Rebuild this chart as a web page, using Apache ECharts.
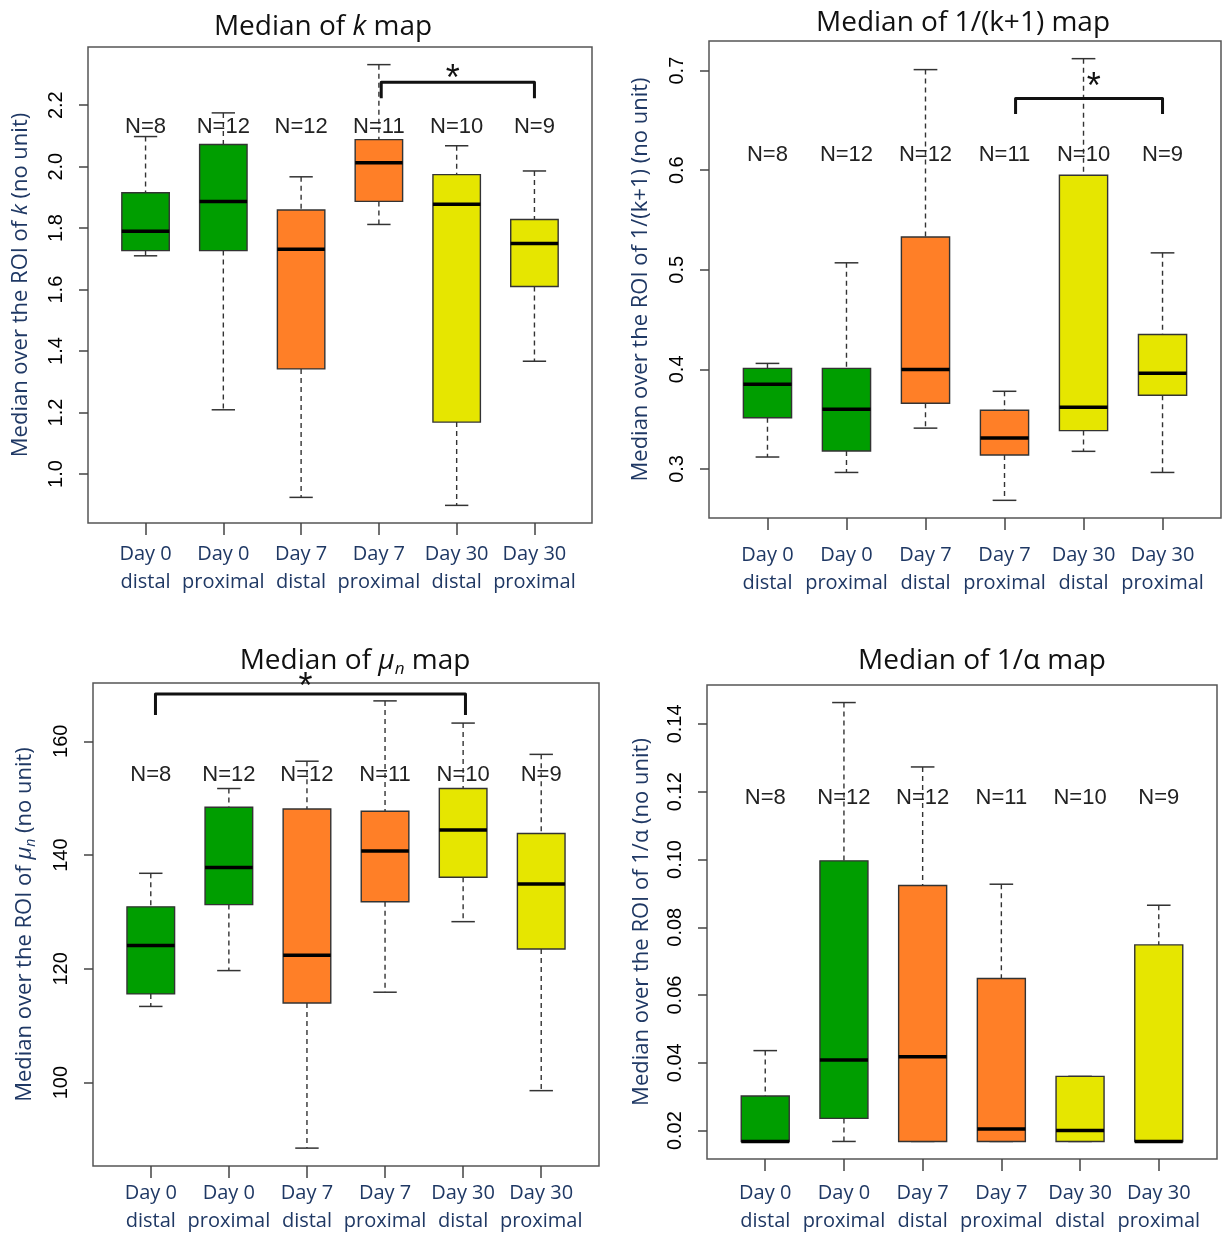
<!DOCTYPE html>
<html>
<head>
<meta charset="utf-8">
<script src="https://cdn.jsdelivr.net/npm/echarts@6/dist/echarts.min.js"></script>
<style>
html,body{margin:0;padding:0;background:#fff;}
#chart{width:1224px;height:1235px;}
</style>
</head>
<body>
<div id="chart"></div>
<script>
// ---------- DATA ----------
const categories = ['Day 0\ndistal', 'Day 0\nproximal', 'Day 7\ndistal', 'Day 7\nproximal', 'Day 30\ndistal', 'Day 30\nproximal'];
const nLabels = ['N=8', 'N=12', 'N=12', 'N=11', 'N=10', 'N=9'];

// each row: [lower whisker, Q1, median, Q3, upper whisker]
const kMap = [
  [1.710, 1.727, 1.790, 1.915, 2.098],
  [1.209, 1.727, 1.887, 2.072, 2.175],
  [0.924, 1.342, 1.731, 1.859, 1.967],
  [1.812, 1.887, 2.013, 2.088, 2.332],
  [0.898, 1.169, 1.878, 1.974, 2.068],
  [1.367, 1.610, 1.750, 1.828, 1.986]
];
const invK1Map = [
  [0.3120, 0.3515, 0.385, 0.401, 0.406],
  [0.2965, 0.3180, 0.360, 0.401, 0.507],
  [0.3410, 0.3660, 0.400, 0.533, 0.701],
  [0.2685, 0.3140, 0.331, 0.359, 0.378],
  [0.3177, 0.3385, 0.362, 0.595, 0.712],
  [0.2965, 0.3740, 0.396, 0.435, 0.517]
];
const muMap = [
  [113.4, 115.6, 124.1, 130.9, 136.8],
  [119.7, 131.3, 137.8, 148.4, 151.7],
  [88.5, 114.0, 122.4, 148.1, 156.5],
  [115.9, 131.8, 140.7, 147.7, 167.1],
  [128.3, 136.1, 144.4, 151.7, 163.2],
  [98.6, 123.5, 134.9, 143.8, 157.7]
];
const invAlphaMap = [
  [0.0168, 0.0168, 0.0168, 0.0302, 0.0436],
  [0.0168, 0.0236, 0.0408, 0.0996, 0.1463],
  [0.0168, 0.0168, 0.0418, 0.0923, 0.1273],
  [0.0168, 0.0168, 0.0205, 0.0649, 0.0927],
  [0.0168, 0.0168, 0.0200, 0.0360, 0.0360],
  [0.0168, 0.0168, 0.0168, 0.0748, 0.0865]
];

// tick labels
const kTicks = [1.0, 1.2, 1.4, 1.6, 1.8, 2.0, 2.2];
const invK1Ticks = [0.3, 0.4, 0.5, 0.6, 0.7];
const muTicks = [100, 120, 140, 160];
const invAlphaTicks = [0.02, 0.04, 0.06, 0.08, 0.10, 0.12, 0.14];

// significance brackets: [from x, to x, bar y, foot y] and star [x, y]
const kBracket = [4.03, 6.0, 2.275, 2.223];
const kStar = [4.95, 2.304];
const invK1Bracket = [4.14, 6.0, 0.672, 0.6565];
const invK1Star = [5.13, 0.689];
const muBracket = [1.06, 5.03, 168.3, 164.6];
const muStar = [2.98, 170.5];

// ---------- STYLE ----------
const boxColors = ['#009e00', '#009e00', '#ff7f27', '#ff7f27', '#e6e600', '#e6e600'];
const navy = '#1f3864';
const catPos = [1, 2, 3, 4, 5, 6];

const panels = [
  {
    data: kMap, ticks: kTicks, dec: 1,
    grid: { left: 88, top: 47, width: 504, height: 476 },
    nY: 2.129, xMargin: 17, nameGap: 54,
    title: '{n|Median of }{i|k}{n| map}', titleX: 318, titleY: 5,
    yName: '{n|Median over the ROI of }{i|k}{n| (no unit)}',
    bracket: kBracket, star: kStar
  },
  {
    data: invK1Map, ticks: invK1Ticks, dec: 1,
    grid: { left: 709, top: 41, width: 512, height: 477 },
    nY: 0.615, xMargin: 23, nameGap: 55,
    title: '{n|Median of 1/(k+1) map}', titleX: 958, titleY: 1,
    yName: '{n|Median over the ROI of 1/(k+1) (no unit)}',
    bracket: invK1Bracket, star: invK1Star
  },
  {
    data: muMap, ticks: muTicks, dec: 0,
    grid: { left: 93, top: 683, width: 506, height: 483 },
    nY: 154.0, xMargin: 13, nameGap: 55,
    title: '{n|Median of }{i|μ}{s|n}{n| map}', titleX: 350, titleY: 639,
    yName: '{n|Median over the ROI of }{i|μ}{s|n}{n| (no unit)}',
    bracket: muBracket, star: muStar
  },
  {
    data: invAlphaMap, ticks: invAlphaTicks, dec: 2,
    grid: { left: 707, top: 685, width: 510, height: 475 },
    nY: 0.1182, xMargin: 20, nameGap: 52,
    title: '{n|Median of 1/α map}', titleX: 977, titleY: 639,
    yName: '{n|Median over the ROI of 1/α (no unit)}',
    bracket: null, star: null
  }
];

// R-style axis extension (4% of data range)
function extent(rows) {
  let lo = Infinity, hi = -Infinity;
  rows.forEach(r => r.forEach(v => { lo = Math.min(lo, v); hi = Math.max(hi, v); }));
  const pad = (hi - lo) * 0.04;
  return [lo - pad, hi + pad];
}

function boxRender(params, api) {
  const x = api.value(0);
  const vmin = api.value(1), q1 = api.value(2), med = api.value(3), q3 = api.value(4), vmax = api.value(5);
  const half = 0.305, cap = 0.15;
  const pTop = api.coord([x, q3]), pBot = api.coord([x, q1]), pMed = api.coord([x, med]);
  const pMax = api.coord([x, vmax]), pMin = api.coord([x, vmin]);
  const xl = api.coord([x - half, q3])[0], xr = api.coord([x + half, q3])[0];
  const cl = api.coord([x - cap, q3])[0], cr = api.coord([x + cap, q3])[0];
  const xc = pTop[0];
  const dashed = { stroke: '#333', lineWidth: 1.4, lineDash: [5, 4] };
  const solid = { stroke: '#333', lineWidth: 1.5 };
  return {
    type: 'group',
    children: [
      { type: 'line', shape: { x1: xc, y1: pMax[1], x2: xc, y2: pTop[1] }, style: dashed },
      { type: 'line', shape: { x1: xc, y1: pBot[1], x2: xc, y2: pMin[1] }, style: dashed },
      { type: 'line', shape: { x1: cl, y1: pMax[1], x2: cr, y2: pMax[1] }, style: solid },
      { type: 'line', shape: { x1: cl, y1: pMin[1], x2: cr, y2: pMin[1] }, style: solid },
      { type: 'rect', shape: { x: xl, y: pTop[1], width: xr - xl, height: pBot[1] - pTop[1] },
        style: { fill: boxColors[params.dataIndex], stroke: '#333', lineWidth: 1.4 } },
      { type: 'line', shape: { x1: xl, y1: pMed[1], x2: xr, y2: pMed[1] }, style: { stroke: '#000', lineWidth: 3.5 } }
    ]
  };
}

function nRender(params, api) {
  const p = api.coord([api.value(0), api.value(1)]);
  return {
    type: 'text', x: p[0], y: p[1],
    style: { text: nLabels[params.dataIndex], fill: '#222', fontSize: 22, fontFamily: 'Liberation Sans',
             align: 'center', verticalAlign: 'middle' }
  };
}

function bracketRender(params, api) {
  const x1 = api.value(0), x2 = api.value(1), yb = api.value(2), yf = api.value(3), sx = api.value(4), sy = api.value(5);
  const a = api.coord([x1, yf]), b = api.coord([x1, yb]), c = api.coord([x2, yb]), d = api.coord([x2, yf]);
  const s = api.coord([sx, sy]);
  return {
    type: 'group',
    children: [
      { type: 'polyline', shape: { points: [a, b, c, d] }, style: { stroke: '#111', lineWidth: 3, fill: null, lineJoin: 'round' } },
      { type: 'text', x: s[0], y: s[1] + 7,
        style: { text: '*', fill: '#111', fontSize: 36, fontFamily: 'Liberation Sans', align: 'center', verticalAlign: 'middle' } }
    ]
  };
}

const titleRich = {
  n: { fontSize: 28, fontFamily: 'Open Sans', fontWeight: 'normal', color: '#111', lineHeight: 34 },
  i: { fontSize: 28, fontFamily: 'Open Sans', fontWeight: 'normal', fontStyle: 'italic', color: '#111', lineHeight: 34 },
  s: { fontSize: 17, fontFamily: 'Open Sans', fontWeight: 'normal', fontStyle: 'italic', color: '#111', lineHeight: 17, verticalAlign: 'bottom' }
};
const nameRich = {
  n: { fontSize: 22, fontFamily: 'Open Sans', color: navy, lineHeight: 26 },
  i: { fontSize: 22, fontFamily: 'Open Sans', fontStyle: 'italic', color: navy, lineHeight: 26 },
  s: { fontSize: 14, fontFamily: 'Open Sans', fontStyle: 'italic', color: navy, lineHeight: 14, verticalAlign: 'bottom' }
};

const option = {
  backgroundColor: '#fff',
  animation: false,
  title: [], grid: [], xAxis: [], yAxis: [], series: []
};

panels.forEach((p, i) => {
  const [ymin, ymax] = extent(p.data);
  option.title.push({
    text: p.title, left: p.titleX, top: p.titleY, textAlign: 'center',
    textStyle: { rich: titleRich, fontSize: 28, fontWeight: 'normal', fontFamily: 'Open Sans', color: '#111' }
  });
  option.grid.push(Object.assign({ show: true, borderColor: '#555', borderWidth: 1.5, backgroundColor: '#fff', containLabel: false }, p.grid));
  option.xAxis.push({
    type: 'value', gridIndex: i, min: 0.26, max: 6.74,
    splitLine: { show: false },
    axisLine: { show: false, onZero: false },
    axisTick: { show: true, length: 12, customValues: catPos, lineStyle: { color: '#444', width: 1.5 } },
    axisLabel: {
      customValues: catPos, margin: p.xMargin,
      formatter: v => categories[Math.round(v) - 1],
      fontSize: 20, fontFamily: 'Open Sans', color: navy, lineHeight: 28
    }
  });
  option.yAxis.push({
    type: 'value', gridIndex: i, min: ymin, max: ymax,
    splitLine: { show: false },
    axisLine: { show: false, onZero: false },
    axisTick: { show: true, length: 9, customValues: p.ticks, lineStyle: { color: '#444', width: 1.5 } },
    axisLabel: {
      customValues: p.ticks, rotate: 90, margin: 22,
      formatter: v => Number(v).toFixed(p.dec),
      fontSize: 20, fontFamily: 'Liberation Sans', color: '#000'
    },
    name: p.yName, nameLocation: 'middle', nameRotate: 90, nameGap: p.nameGap,
    nameTextStyle: { rich: nameRich, fontSize: 22, fontFamily: 'Open Sans', color: navy }
  });
  option.series.push({
    type: 'custom', xAxisIndex: i, yAxisIndex: i, silent: true,
    renderItem: boxRender,
    encode: { x: 0, y: [1, 2, 3, 4, 5] },
    data: p.data.map((r, j) => [catPos[j]].concat(r))
  });
  option.series.push({
    type: 'custom', xAxisIndex: i, yAxisIndex: i, silent: true,
    renderItem: nRender,
    encode: { x: 0, y: 1 },
    data: nLabels.map((t, j) => [catPos[j], p.nY])
  });
  if (p.bracket) {
    option.series.push({
      type: 'custom', xAxisIndex: i, yAxisIndex: i, silent: true, clip: false,
      renderItem: bracketRender,
      encode: { x: [0, 1, 4], y: [2, 3, 5] },
      data: [p.bracket.concat(p.star)]
    });
  }
});

const chart = echarts.init(document.getElementById('chart'));
chart.setOption(option);
</script>
</body>
</html>
